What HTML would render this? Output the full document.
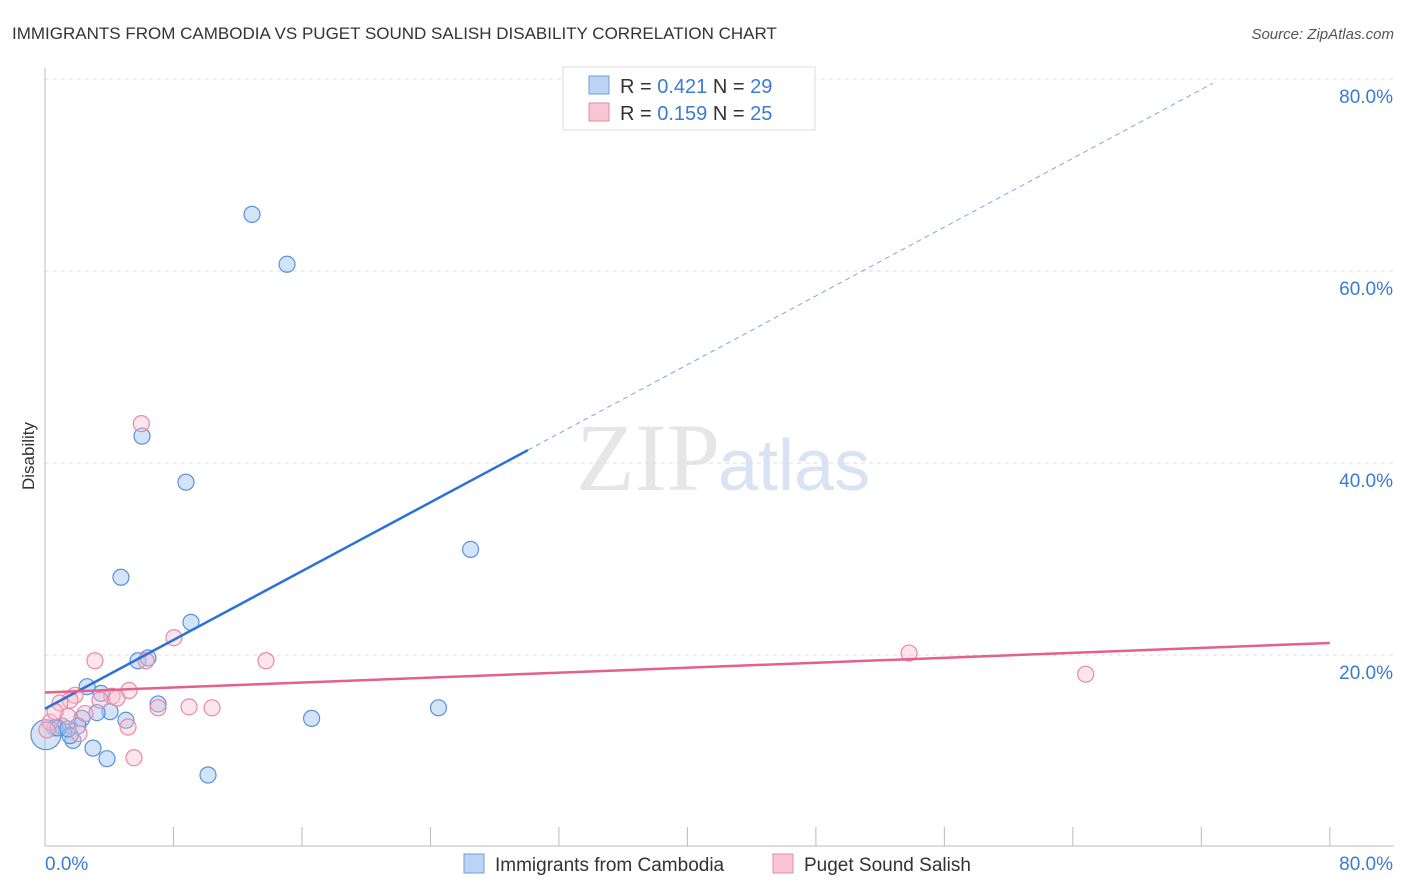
<!DOCTYPE html>
<html><head><meta charset="utf-8"><style>
body{margin:0;background:#fff;font-family:"Liberation Sans",sans-serif}
svg{display:block}
</style></head><body>
<svg id="c" width="1406" height="892" xmlns="http://www.w3.org/2000/svg">
<text x="12" y="39" font-size="17" fill="#333">IMMIGRANTS FROM CAMBODIA VS PUGET SOUND SALISH DISABILITY CORRELATION CHART</text>
<text x="1394" y="39" font-size="15" fill="#555" font-style="italic" text-anchor="end">Source: ZipAtlas.com</text>
<text x="720" y="490" font-size="96" fill="#e6e6e6" text-anchor="end" font-family="Liberation Serif">ZIP</text>
<text x="718" y="490" font-size="72" fill="#d8e4f4">atlas</text>
<g id="grid"></g><g id="axes"></g><g id="pts"></g><g id="lines"></g>
<text x="34" y="456" font-size="17" fill="#333" text-anchor="middle" transform="rotate(-90 34 456)">Disability</text>
<g>
<rect x="563" y="67" width="252" height="63" fill="#fff" stroke="#ddd"/>
<rect x="589" y="76" width="20" height="18" fill="#bdd4f5" stroke="#6d9de0"/>
<text x="620" y="93" font-size="20" fill="#333">R = <tspan fill="#3a7bd5">0.421</tspan>   N = <tspan fill="#3a7bd5">29</tspan></text>
<rect x="589" y="103" width="20" height="18" fill="#f8c6d4" stroke="#e68aa6"/>
<text x="620" y="120" font-size="20" fill="#333">R = <tspan fill="#3a7bd5">0.159</tspan>   N = <tspan fill="#3a7bd5">25</tspan></text>
</g>
<g>
<rect x="464" y="854" width="20" height="19" fill="#bdd4f5" stroke="#6d9de0"/>
<text x="495" y="871" font-size="19" fill="#333">Immigrants from Cambodia</text>
<rect x="773" y="854" width="20" height="19" fill="#f8c6d4" stroke="#e68aa6"/>
<text x="804" y="871" font-size="19" fill="#333">Puget Sound Salish</text>
</g>
</svg>
<script>
const blueX=[12.89,15.07,6.04,8.78,26.5,4.73,9.09,5.79,6.41,2.62,3.49,7.04,4.05,3.24,2.30,5.04,16.6,24.5,1.06,0.62,2.05,1.74,1.56,2.99,3.86,10.15,0.06,0.81,1.43];
const blueY=[65.9,60.7,42.8,38.0,31.0,28.1,23.4,19.4,19.7,16.7,16.0,14.9,14.1,14.0,13.4,13.2,13.4,14.5,12.6,12.4,12.6,11.1,11.6,10.3,9.2,7.5,11.7,12.4,12.3];
const pinkX=[6.0,8.03,3.11,6.29,13.76,53.8,64.8,5.23,1.87,4.17,4.48,1.56,0.93,7.04,8.97,10.4,2.49,1.43,5.17,2.12,5.54,0.31,0.62,3.42,0.12];
const pinkY=[44.1,21.8,19.4,19.4,19.4,20.2,18.0,16.3,15.8,15.7,15.5,15.3,15.0,14.5,14.6,14.5,13.9,13.6,12.5,11.8,9.3,13.0,14.1,15.3,12.2];
const yTicks=[20,40,60,80];
const blueTrend=[14.4,0.896];
const pinkTrend=[16.1,0.0644];
const NS="http://www.w3.org/2000/svg";
const sx=v=>45+v*16.06, sy=v=>847-v*9.6;
function mk(p,t,a){const e=document.createElementNS(NS,t);for(const k in a)e.setAttribute(k,a[k]);p.appendChild(e);return e;}
const g=document.getElementById('grid'),ax=document.getElementById('axes'),P=document.getElementById('pts'),L=document.getElementById('lines');
yTicks.forEach(t=>{
 const l=mk(g,'line',{x1:45,x2:1394,y1:sy(t),y2:sy(t),stroke:'#ddd','stroke-dasharray':'4,4'});
 
 
 const tx=mk(g,'text',{x:1393,y:sy(t)+24,'font-size':19,fill:'#3a7bd5','text-anchor':'end'});
 tx.textContent=t.toFixed(1)+'%';
 
 
});
mk(ax,'line',{x1:45,x2:45,y1:68,y2:846,stroke:'#bbb'});
mk(ax,'line',{x1:45,x2:1394,y1:846,y2:846,stroke:'#bbb'});
for(let i=0;i<=10;i++){const x=sx(i*8);const tk=mk(ax,'line',{x1:x,x2:x,y1:827,y2:846,stroke:'#bbb'});
 
 }
const x0=mk(ax,'text',{x:45,y:870,'font-size':19,fill:'#3a7bd5'});x0.textContent='0.0%';


const x1=mk(ax,'text',{x:1393,y:870,'font-size':19,fill:'#3a7bd5','text-anchor':'end'});x1.textContent='80.0%';


blueX.forEach((x,i)=>{const c=mk(P,'circle',{cx:sx(x),cy:sy(blueY[i]),r:i==26?15:8,fill:'rgba(160,195,240,0.45)',stroke:'#5b8fdc','stroke-width':1.2});
 
 });
pinkX.forEach((x,i)=>{const c=mk(P,'circle',{cx:sx(x),cy:sy(pinkY[i]),r:8,fill:'rgba(248,190,206,0.4)',stroke:'#e88aa8','stroke-width':1.2});
 
 });
const bf=x=>blueTrend[0]+blueTrend[1]*x, pf=x=>pinkTrend[0]+pinkTrend[1]*x;
let l1=mk(L,'line',{x1:sx(0),y1:sy(bf(0)),x2:sx(30.07),y2:sy(bf(30.07)),stroke:'#2a72d8','stroke-width':2.5});


let l2=mk(L,'line',{x1:sx(30.07),y1:sy(bf(30.07)),x2:sx(72.7),y2:sy(bf(72.7)),stroke:'#7aa6e6','stroke-width':1,'stroke-dasharray':'5,4'});


let l3=mk(L,'line',{x1:sx(0),y1:sy(pf(0)),x2:sx(80),y2:sy(pf(80)),stroke:'#e5608a','stroke-width':2.5});


</script>
</body></html>
